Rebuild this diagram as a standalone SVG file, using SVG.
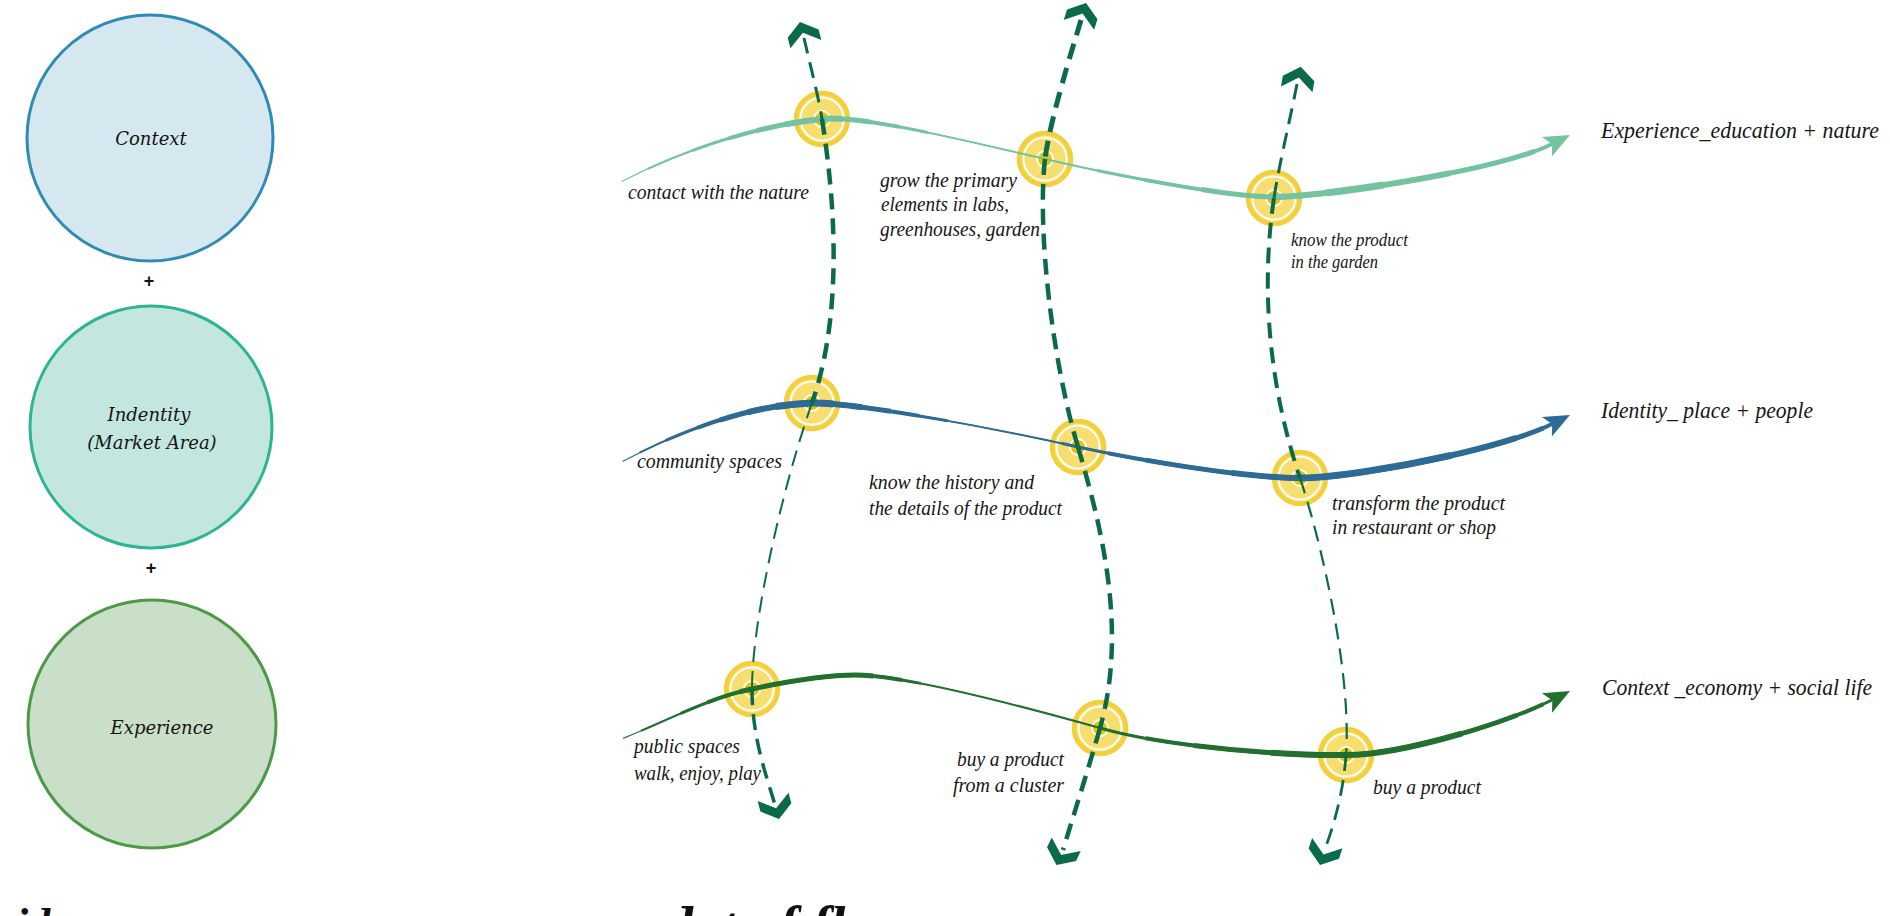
<svg xmlns="http://www.w3.org/2000/svg" xmlns:xlink="http://www.w3.org/1999/xlink" width="1890" height="916" viewBox="0 0 1890 916">
<style>
.lbl{font-family:"Liberation Serif",serif;font-style:italic;font-size:20.5px;fill:#161616}
.sm{font-size:18px}
.ttl{font-family:"Liberation Serif",serif;font-style:italic;font-size:23px;fill:#161616}
.ctx{font-family:"DejaVu Serif",serif;font-style:italic;font-size:18px;fill:#141414;text-anchor:middle}
.plus{font-family:"Liberation Sans",sans-serif;font-weight:bold;font-size:18px;text-anchor:middle;fill:#111}
.big{font-family:"Liberation Serif",serif;font-style:italic;font-weight:bold;fill:#111}
.vd{fill:none;stroke:#0b6a4a;stroke-dasharray:16 9;stroke-linecap:butt}
.h1{fill:none;stroke:#74c3a0;stroke-linecap:butt}
.h2{fill:none;stroke:#2d6b96;stroke-linecap:butt}
.h3{fill:none;stroke:#22702f;stroke-linecap:butt}
.chev{fill:#0b6a4a}
</style>
<defs>
<g id="tgt">
<circle r="26" fill="#f7de6e" stroke="#f3cf3a" stroke-width="4.5"/>
<circle r="21.5" fill="none" stroke="#ffffff" stroke-width="2"/>
<circle r="8" fill="#efc200" stroke="#ffffff" stroke-width="2"/>
</g>
<path id="chv" d="M0,0 L16,12 L16,23 L0,11 L-16,23 L-16,12 Z"/>
<path id="ahd" d="M0,0 L-26,-11 L-20,0 L-26,11 Z"/>
<path id="hp1" pathLength="100" d="M613,186 C680,150 760,125 822,119 C859,115 955,138 1045,159 C1117,176 1230,197 1274,197 C1320,197 1498,171 1552,144"/>
<path id="hp2" pathLength="100" d="M614,466 C680,430 750,405 812,403 C849,402 980,425 1078,447 C1147,462 1250,478 1300,478 C1350,478 1498,451 1552,424"/>
<path id="hp3" pathLength="100" d="M614,742 C665,722 710,697 752,689 C780,683 820,675 855,675 C900,675 1000,700 1100,728 C1170,748 1290,756 1346,755 C1395,755 1498,727 1552,700"/>
</defs>

<rect x="0" y="0" width="1890" height="916" fill="#ffffff"/>

<g id="node-context">
<circle cx="150" cy="138" r="123" fill="#d5e7ef" stroke="#2f8bb5" stroke-width="3"/>
<text class="ctx" x="151" y="145">Context</text>
</g>
<g id="plus-1"><text class="plus" x="149" y="287">+</text></g>
<g id="node-identity">
<circle cx="151" cy="427" r="121" fill="#c3e7df" stroke="#2db395" stroke-width="3"/>
<text class="ctx" x="149" y="421">Indentity</text>
<text class="ctx" x="152" y="449">(Market Area)</text>
</g>
<g id="plus-2"><text class="plus" x="151" y="574">+</text></g>
<g id="node-experience">
<circle cx="152" cy="724" r="124" fill="#c9dfc8" stroke="#4c9a48" stroke-width="3"/>
<text class="ctx" x="162" y="734">Experience</text>
</g>

<g id="node-t1"><use xlink:href="#tgt" x="822" y="119"/></g>
<g id="node-t2"><use xlink:href="#tgt" x="1045" y="159"/></g>
<g id="node-t3"><use xlink:href="#tgt" x="1274" y="198"/></g>
<g id="node-m1"><use xlink:href="#tgt" x="812" y="403"/></g>
<g id="node-m2"><use xlink:href="#tgt" x="1078" y="447"/></g>
<g id="node-m3"><use xlink:href="#tgt" x="1300" y="478"/></g>
<g id="node-b1"><use xlink:href="#tgt" x="752" y="689"/></g>
<g id="node-b2"><use xlink:href="#tgt" x="1100" y="728"/></g>
<g id="node-b3"><use xlink:href="#tgt" x="1346" y="755"/></g>

<g id="connectors">
<g id="flow-experience">
<use xlink:href="#hp1" class="h1" stroke-width="1.2" stroke-dasharray="0 1 99 200"/>
<use xlink:href="#hp1" class="h1" stroke-width="2" stroke-dasharray="0 4 96 200"/>
<use xlink:href="#hp1" class="h1" stroke-width="3" stroke-dasharray="0 9 25 18 48 200"/>
<use xlink:href="#hp1" class="h1" stroke-width="4" stroke-dasharray="0 13 18 26 43 200"/>
<use xlink:href="#hp1" class="h1" stroke-width="5" stroke-dasharray="0 16 12 35 35 200"/>
<use xlink:href="#hp1" class="h1" stroke-width="6" stroke-dasharray="0 19 6 45 19 200"/>
<use xlink:href="#hp1" class="h1" stroke-width="7" stroke-dasharray="0 76 6 200"/>
<use xlink:href="#ahd" fill="#74c3a0" transform="translate(1570,135) rotate(-27)"/>
</g>
<g id="flow-identity">
<use xlink:href="#hp2" class="h2" stroke-width="1.2" stroke-dasharray="0 1 99 200"/>
<use xlink:href="#hp2" class="h2" stroke-width="2" stroke-dasharray="0 3 97 200"/>
<use xlink:href="#hp2" class="h2" stroke-width="3" stroke-dasharray="0 6 30 12 52 200"/>
<use xlink:href="#hp2" class="h2" stroke-width="4" stroke-dasharray="0 9.5 23.5 20 47 200"/>
<use xlink:href="#hp2" class="h2" stroke-width="5" stroke-dasharray="0 12 18 27 42 200"/>
<use xlink:href="#hp2" class="h2" stroke-width="6" stroke-dasharray="0 15 12 39 30 200"/>
<use xlink:href="#hp2" class="h2" stroke-width="7" stroke-dasharray="0 18 6 49 16 200"/>
<use xlink:href="#ahd" fill="#2d6b96" transform="translate(1570,415) rotate(-27)"/>
</g>
<g id="flow-context">
<use xlink:href="#hp3" class="h3" stroke-width="1.2" stroke-dasharray="0 1 99 200"/>
<use xlink:href="#hp3" class="h3" stroke-width="2" stroke-dasharray="0 3 97 200"/>
<use xlink:href="#hp3" class="h3" stroke-width="3" stroke-dasharray="0 7.5 25.5 19 48 200"/>
<use xlink:href="#hp3" class="h3" stroke-width="4" stroke-dasharray="0 10.5 20.5 26 42 200"/>
<use xlink:href="#hp3" class="h3" stroke-width="5" stroke-dasharray="0 14 14 34 34 200"/>
<use xlink:href="#hp3" class="h3" stroke-width="6" stroke-dasharray="0 70 20 200"/>
<use xlink:href="#ahd" fill="#22702f" transform="translate(1570,691) rotate(-27.5)"/>
</g>

<g id="vflow-1">
<path class="vd" stroke-width="3" d="M804,38 C810,65 818,94 822,119"/>
<path class="vd" stroke-width="4.5" d="M822,119 C830,170 848,300 812,403"/>
<path class="vd" stroke-width="2" d="M812,403 C783,485 752,620 752,689"/>
<path class="vd" stroke-width="3.5" d="M752,689 C752,740 768,780 775,805"/>
<use xlink:href="#chv" class="chev" transform="translate(800,22) rotate(-15)"/>
<use xlink:href="#chv" class="chev" transform="translate(779,819) rotate(165)"/>
</g>
<g id="vflow-2">
<path class="vd" stroke-width="5" d="M1081,20 C1072,50 1050,120 1045,159"/>
<path class="vd" stroke-width="4.5" d="M1045,159 C1037,230 1052,360 1078,447"/>
<path class="vd" stroke-width="4.5" d="M1078,447 C1101,525 1128,630 1100,728"/>
<path class="vd" stroke-width="4.5" d="M1100,728 C1089,767 1072,820 1063,850"/>
<use xlink:href="#chv" class="chev" transform="translate(1086,3) rotate(18)"/>
<use xlink:href="#chv" class="chev" transform="translate(1056.5,865) rotate(205)"/>
</g>
<g id="vflow-3">
<path class="vd" stroke-width="3" d="M1297,84 C1290,120 1279,165 1274,198"/>
<path class="vd" stroke-width="4" d="M1274,198 C1264,264 1262,365 1300,478"/>
<path class="vd" stroke-width="2.2" d="M1300,478 C1319,534 1352,670 1346,755"/>
<path class="vd" stroke-width="2.8" d="M1346,755 C1343,797 1332,830 1325,849"/>
<use xlink:href="#chv" class="chev" transform="translate(1300.7,66.7) rotate(10)"/>
<use xlink:href="#chv" class="chev" transform="translate(1320,865) rotate(198.5)"/>
</g>
</g>

<g id="label-contact"><text class="lbl" x="628" y="199" textLength="181" lengthAdjust="spacingAndGlyphs">contact with the nature</text></g>
<g id="label-grow">
<text class="lbl" x="880" y="187" textLength="137" lengthAdjust="spacingAndGlyphs">grow the primary</text>
<text class="lbl" x="881" y="211" textLength="128" lengthAdjust="spacingAndGlyphs">elements in labs,</text>
<text class="lbl" x="880" y="236" textLength="160" lengthAdjust="spacingAndGlyphs">greenhouses, garden</text>
</g>
<g id="label-know-garden">
<text class="lbl sm" x="1291" y="246" textLength="117" lengthAdjust="spacingAndGlyphs">know the product</text>
<text class="lbl sm" x="1291" y="268" textLength="87" lengthAdjust="spacingAndGlyphs">in the garden</text>
</g>
<g id="title-experience"><text class="ttl" x="1601" y="138" font-size="22" textLength="278" lengthAdjust="spacingAndGlyphs">Experience_education + nature</text></g>

<g id="label-community"><text class="lbl" x="637" y="468" textLength="145" lengthAdjust="spacingAndGlyphs">community spaces</text></g>
<g id="label-history">
<text class="lbl" x="869" y="489" textLength="165" lengthAdjust="spacingAndGlyphs">know the history and</text>
<text class="lbl" x="869" y="515" textLength="193" lengthAdjust="spacingAndGlyphs">the details of the product</text>
</g>
<g id="label-transform">
<text class="lbl" x="1332" y="510" textLength="173" lengthAdjust="spacingAndGlyphs">transform the product</text>
<text class="lbl" x="1332" y="534" textLength="164" lengthAdjust="spacingAndGlyphs">in restaurant or shop</text>
</g>
<g id="title-identity"><text class="ttl" x="1601" y="418" textLength="212" lengthAdjust="spacingAndGlyphs">Identity_ place + people</text></g>

<g id="label-public">
<text class="lbl" x="634" y="753" textLength="106" lengthAdjust="spacingAndGlyphs">public spaces</text>
<text class="lbl" x="634" y="780" textLength="127" lengthAdjust="spacingAndGlyphs">walk, enjoy, play</text>
</g>
<g id="label-cluster">
<text class="lbl" x="957" y="766" textLength="107" lengthAdjust="spacingAndGlyphs">buy a product</text>
<text class="lbl" x="953" y="792" textLength="111" lengthAdjust="spacingAndGlyphs">from a cluster</text>
</g>
<g id="label-buy"><text class="lbl" x="1373" y="794" textLength="108" lengthAdjust="spacingAndGlyphs">buy a product</text></g>
<g id="title-context"><text class="ttl" x="1602" y="695" textLength="270" lengthAdjust="spacingAndGlyphs">Context _economy + social life</text></g>

<g id="caption-left"><text class="big" x="16" y="939" font-size="44">idea</text></g>
<g id="caption-middle"><text class="big" x="665" y="946" font-size="56">dot of flows</text></g>
</svg>
